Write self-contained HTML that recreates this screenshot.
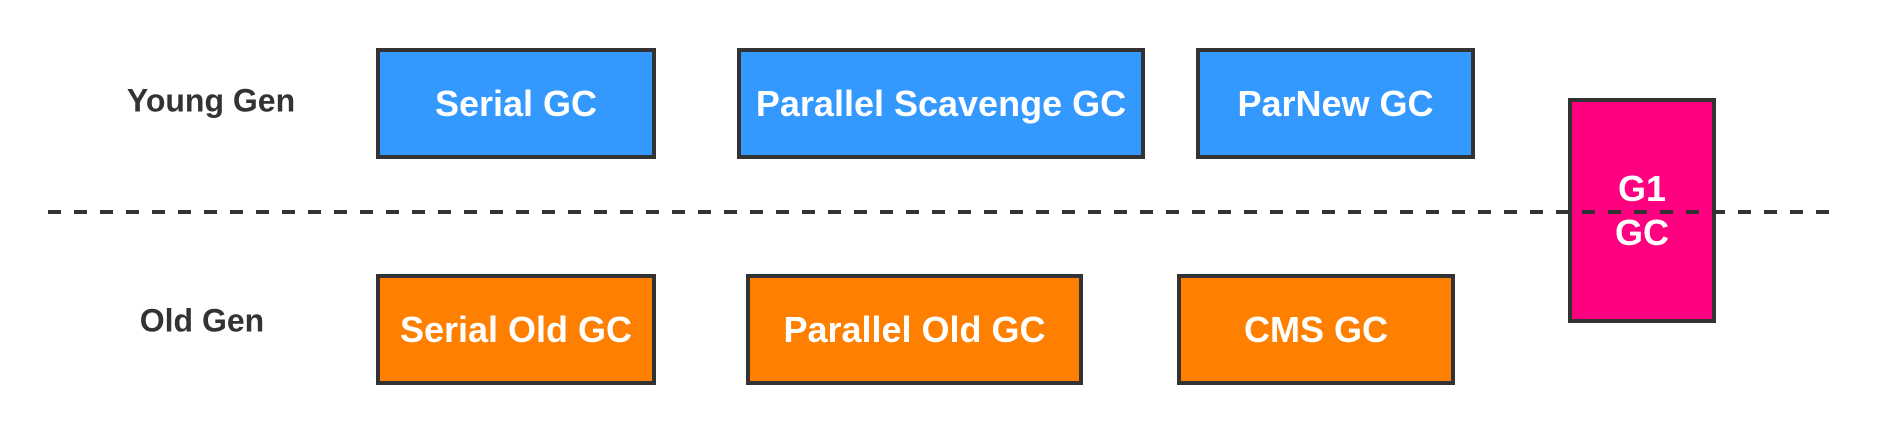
<!DOCTYPE html>
<html><head><style>
body{margin:0;width:1894px;height:434px;background:#fff;position:relative;overflow:hidden;font-family:"Liberation Sans",sans-serif;font-weight:bold}
.b{position:absolute;box-sizing:border-box;border:4px solid #333;color:#fff;font-size:36px;display:flex;align-items:center;justify-content:center;text-align:center;line-height:44px}
.blue{background:#3399ff}.or{background:#ff8000}.pk{background:#ff0080}
.l{position:absolute;color:#333;font-size:32px;transform:translate(-50%,-50%);white-space:nowrap}
</style></head><body>
<div class="l" style="left:211px;top:101px">Young Gen</div>
<div class="l" style="left:202px;top:321px">Old Gen</div>
<div class="b blue" style="left:376px;top:48px;width:280px;height:111px">Serial GC</div>
<div class="b blue" style="left:737px;top:48px;width:408px;height:111px">Parallel Scavenge GC</div>
<div class="b blue" style="left:1196px;top:48px;width:279px;height:111px">ParNew GC</div>
<div class="b or" style="left:376px;top:274px;width:280px;height:111px">Serial Old GC</div>
<div class="b or" style="left:746px;top:274px;width:337px;height:111px">Parallel Old GC</div>
<div class="b or" style="left:1177px;top:274px;width:278px;height:111px">CMS GC</div>
<div class="b pk" style="left:1568px;top:98px;width:148px;height:225px">G1<br>GC</div>
<svg style="position:absolute;left:0;top:0" width="1894" height="434"><line x1="48" y1="212" x2="1834" y2="212" stroke="#333" stroke-width="4" stroke-dasharray="13 13"/></svg>
</body></html>
